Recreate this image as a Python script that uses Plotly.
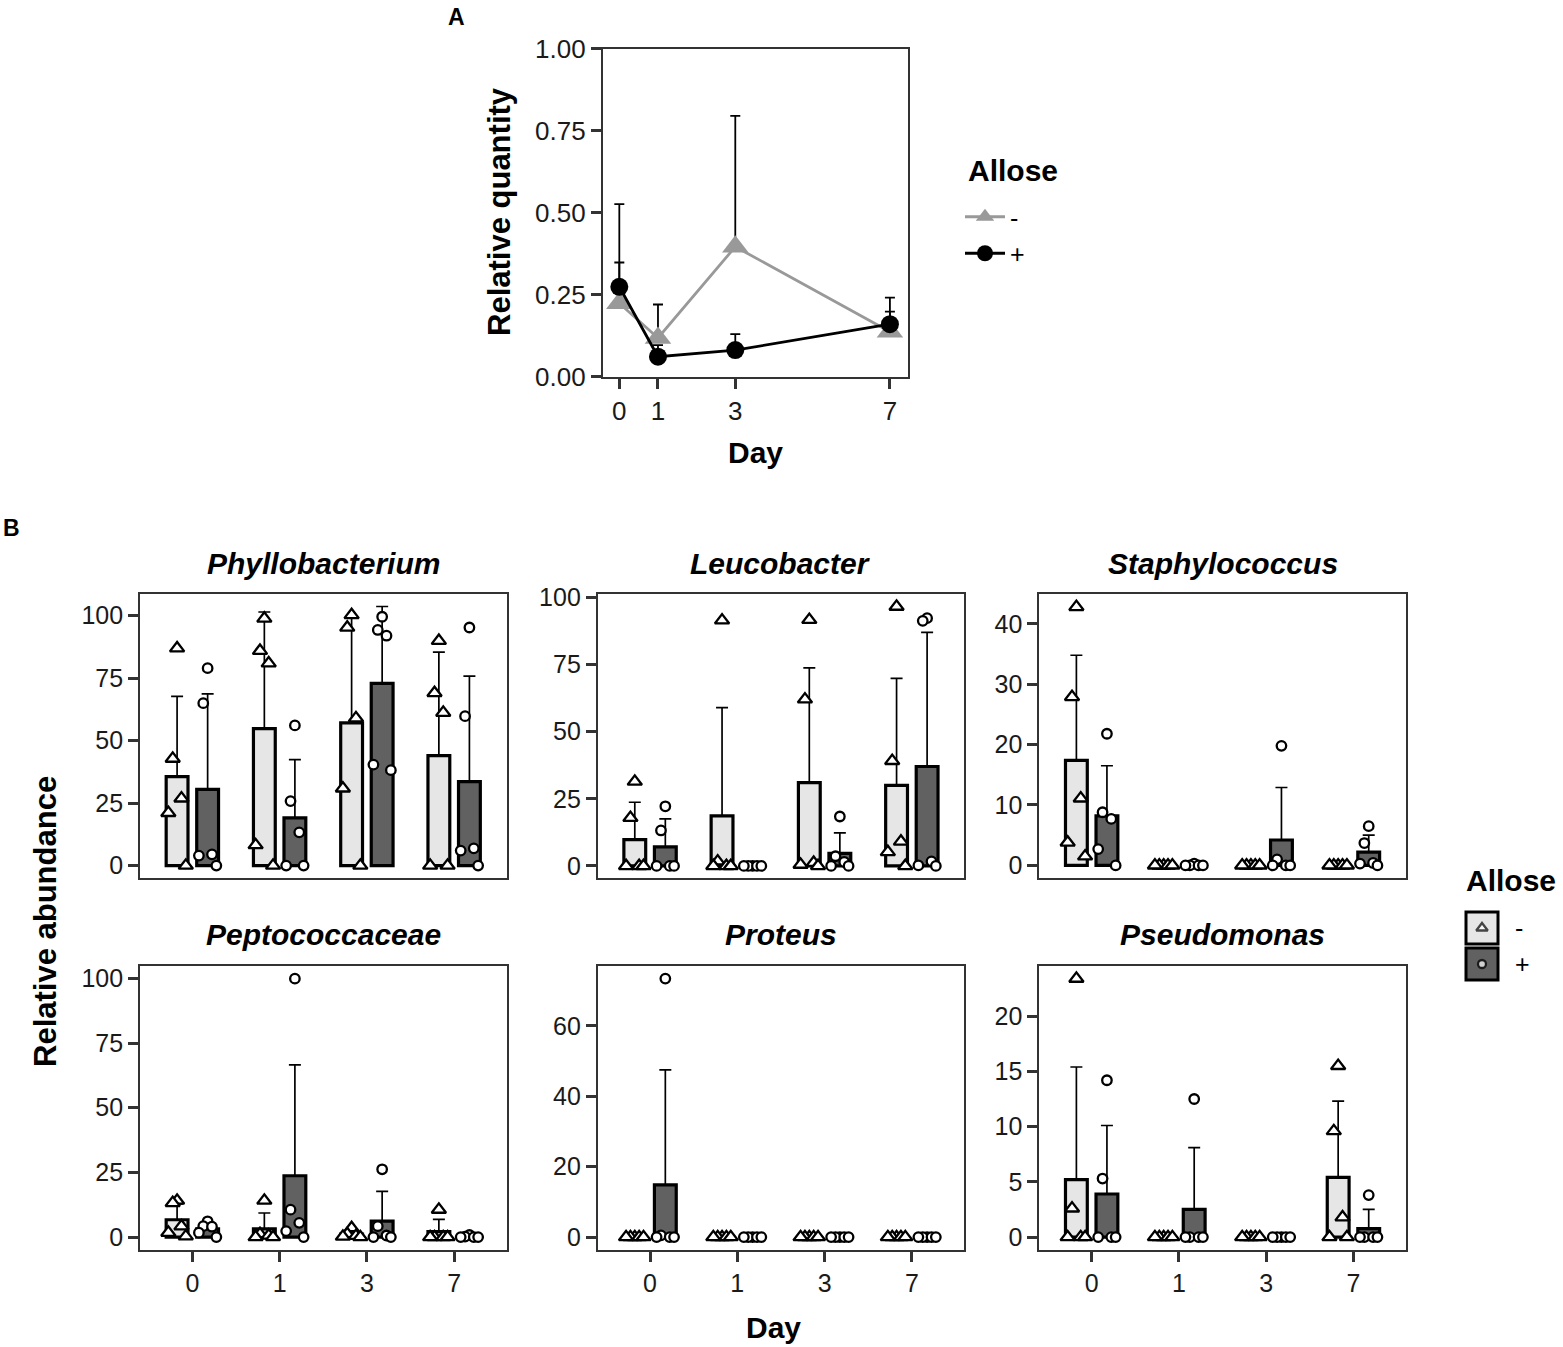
import plotly.graph_objects as go

# ---------------- DATA ----------------
# Panel A: relative quantity by day (mean and SD; error bars drawn upward)
DAYS = [0, 1, 3, 7]
QTY_MINUS_MEAN = [0.224, 0.118, 0.396, 0.137]
QTY_MINUS_SD = [0.302, 0.102, 0.399, 0.061]
QTY_PLUS_MEAN = [0.274, 0.061, 0.081, 0.160]
QTY_PLUS_SD = [0.074, 0.035, 0.049, 0.081]

# Panel B: relative abundance (%) per taxon, day, allose group
DAY_LABELS = ["0", "1", "3", "7"]
TAXA = ["Phyllobacterium", "Leucobacter", "Staphylococcus",
        "Peptococcaceae", "Proteus", "Pseudomonas"]
GROUPS = ["-", "+"]

PHYLLO_MINUS_MEAN = [35.6, 54.8, 57.1, 44.0]
PHYLLO_MINUS_SD = [32.1, 46.7, 42.6, 41.4]
PHYLLO_MINUS_PTS = [[87.0, 42.8, 26.9, 21.1, 0.0], [98.9, 86.0, 81.0, 8.2, 0.0],
                    [100.3, 95.3, 59.0, 30.9, 0.0], [90.0, 69.1, 61.2, 0.0, 0.0]]
PHYLLO_PLUS_MEAN = [30.5, 19.1, 72.9, 33.6]
PHYLLO_PLUS_SD = [38.2, 23.3, 30.8, 42.2]
PHYLLO_PLUS_PTS = [[79.0, 65.0, 4.5, 4.0, 0.0], [56.1, 25.8, 13.3, 0.0, 0.0],
                   [99.6, 94.3, 92.0, 40.4, 38.2], [95.3, 59.8, 6.9, 6.0, 0.0]]

LEUCO_MINUS_MEAN = [9.8, 18.6, 31.0, 30.0]
LEUCO_MINUS_SD = [13.9, 40.3, 42.7, 39.8]
LEUCO_MINUS_PTS = [[31.4, 17.9, 0.0, 0.0, 0.0], [91.4, 1.7, 0.0, 0.0, 0.0],
                   [91.6, 62.0, 1.2, 0.5, 0.0], [96.5, 39.1, 9.1, 5.2, 0.0]]
LEUCO_PLUS_MEAN = [7.1, 0.0, 4.7, 37.0]
LEUCO_PLUS_SD = [10.4, 0.0, 7.6, 49.9]
LEUCO_PLUS_PTS = [[22.2, 13.2, 0.0, 0.0, 0.0], [0.0, 0.0, 0.0, 0.0, 0.0],
                  [18.4, 3.6, 1.5, 0.0, 0.0], [92.2, 91.2, 1.7, 0.2, 0.0]]

STAPH_MINUS_MEAN = [17.4, 0.0, 0.0, 0.0]
STAPH_MINUS_SD = [17.4, 0.0, 0.0, 0.0]
STAPH_MINUS_PTS = [[42.8, 27.9, 11.1, 3.8, 1.5], [0.0, 0.0, 0.0, 0.0, 0.0],
                   [0.0, 0.0, 0.0, 0.0, 0.0], [0.0, 0.0, 0.0, 0.0, 0.0]]
STAPH_PLUS_MEAN = [8.2, 0.06, 4.2, 2.2]
STAPH_PLUS_SD = [8.3, 0.13, 8.7, 2.8]
STAPH_PLUS_PTS = [[21.8, 8.8, 7.7, 2.7, 0.0], [0.3, 0.0, 0.0, 0.0, 0.0],
                  [19.8, 1.0, 0.0, 0.0, 0.0], [6.5, 3.7, 0.4, 0.3, 0.0]]

PEPTO_MINUS_MEAN = [6.7, 3.2, 1.1, 2.1]
PEPTO_MINUS_SD = [6.1, 6.1, 1.5, 4.7]
PEPTO_MINUS_PTS = [[14.1, 13.2, 4.2, 1.7, 0.3], [14.1, 1.2, 0.6, 0.0, 0.0],
                   [3.5, 1.2, 0.5, 0.2, 0.0], [10.6, 0.0, 0.0, 0.0, 0.0]]
PEPTO_PLUS_MEAN = [3.2, 23.7, 6.2, 0.2]
PEPTO_PLUS_SD = [2.5, 42.9, 11.5, 0.3]
PEPTO_PLUS_PTS = [[6.1, 4.2, 4.0, 1.7, 0.0], [99.9, 10.6, 5.5, 2.3, 0.0],
                  [26.2, 4.2, 0.6, 0.0, 0.0], [0.8, 0.2, 0.0, 0.0, 0.0]]

PROTEUS_MINUS_MEAN = [0.0, 0.0, 0.0, 0.0]
PROTEUS_MINUS_SD = [0.0, 0.0, 0.0, 0.0]
PROTEUS_MINUS_PTS = [[0.0, 0.0, 0.0, 0.0, 0.0], [0.0, 0.0, 0.0, 0.0, 0.0],
                     [0.0, 0.0, 0.0, 0.0, 0.0], [0.0, 0.0, 0.0, 0.0, 0.0]]
PROTEUS_PLUS_MEAN = [14.8, 0.0, 0.0, 0.0]
PROTEUS_PLUS_SD = [32.7, 0.0, 0.0, 0.0]
PROTEUS_PLUS_PTS = [[73.4, 0.5, 0.0, 0.0, 0.0], [0.0, 0.0, 0.0, 0.0, 0.0],
                    [0.0, 0.0, 0.0, 0.0, 0.0], [0.0, 0.0, 0.0, 0.0, 0.0]]

PSEUDO_MINUS_MEAN = [5.2, 0.0, 0.0, 5.4]
PSEUDO_MINUS_SD = [10.2, 0.0, 0.0, 6.9]
PSEUDO_MINUS_PTS = [[23.4, 2.6, 0.0, 0.0, 0.0], [0.0, 0.0, 0.0, 0.0, 0.0],
                    [0.0, 0.0, 0.0, 0.0, 0.0], [15.5, 9.6, 1.8, 0.0, 0.0]]
PSEUDO_PLUS_MEAN = [3.9, 2.5, 0.0, 0.76]
PSEUDO_PLUS_SD = [6.2, 5.6, 0.0, 1.74]
PSEUDO_PLUS_PTS = [[14.2, 5.3, 0.0, 0.0, 0.0], [12.5, 0.0, 0.0, 0.0, 0.0],
                   [0.0, 0.0, 0.0, 0.0, 0.0], [3.8, 0.0, 0.0, 0.0, 0.0]]

TAXON_DATA = [
    ((PHYLLO_MINUS_MEAN, PHYLLO_MINUS_SD, PHYLLO_MINUS_PTS),
     (PHYLLO_PLUS_MEAN, PHYLLO_PLUS_SD, PHYLLO_PLUS_PTS)),
    ((LEUCO_MINUS_MEAN, LEUCO_MINUS_SD, LEUCO_MINUS_PTS),
     (LEUCO_PLUS_MEAN, LEUCO_PLUS_SD, LEUCO_PLUS_PTS)),
    ((STAPH_MINUS_MEAN, STAPH_MINUS_SD, STAPH_MINUS_PTS),
     (STAPH_PLUS_MEAN, STAPH_PLUS_SD, STAPH_PLUS_PTS)),
    ((PEPTO_MINUS_MEAN, PEPTO_MINUS_SD, PEPTO_MINUS_PTS),
     (PEPTO_PLUS_MEAN, PEPTO_PLUS_SD, PEPTO_PLUS_PTS)),
    ((PROTEUS_MINUS_MEAN, PROTEUS_MINUS_SD, PROTEUS_MINUS_PTS),
     (PROTEUS_PLUS_MEAN, PROTEUS_PLUS_SD, PROTEUS_PLUS_PTS)),
    ((PSEUDO_MINUS_MEAN, PSEUDO_MINUS_SD, PSEUDO_MINUS_PTS),
     (PSEUDO_PLUS_MEAN, PSEUDO_PLUS_SD, PSEUDO_PLUS_PTS)),
]

# ---------------- STYLE / LAYOUT ----------------
W, H = 1563, 1347
FONT = "Liberation Sans, Arial, Helvetica, sans-serif"
TXT = "#1a1a1a"
AX = "#333333"
GRAY_LINE = "#999999"
FILLS = ["#e6e6e6", "#616161"]
SYMBOLS = ["triangle-up", "circle"]
SYM_SIZE = [12.5, 9.5]
SYM_LINE = 2.3
DODGE = [-0.175, 0.175]
BAR_W = 0.25
JITTER = [0.0, -0.05, 0.05, -0.1, 0.1]

# facet y ranges and tick steps (axis settings)
Y_RANGES = [[-5.1, 108.7], [-4.6, 101.2], [-2.14, 44.94],
            [-5.0, 104.9], [-3.67, 77.07], [-1.17, 24.57]]
Y_DTICK = [25, 25, 10, 25, 20, 5]
COL_LEFT = [140.0, 597.7, 1039.3]
PANEL_W = 366.5
ROW_TOP = [594.0, 965.7]
PANEL_H = 284.3


def fx(p):
    return p / W


def fy(p):
    return 1 - p / H


fig = go.Figure()

axis_common = dict(showgrid=False, zeroline=False, showline=True, mirror=True,
                   linecolor=AX, linewidth=1.8, ticks="outside", ticklen=10,
                   tickwidth=2.5, tickcolor=AX, automargin=False,
                   tickfont=dict(family=FONT, size=25, color=TXT))

# ---------------- PANEL A ----------------
fig.add_trace(go.Scatter(
    x=DAYS, y=QTY_MINUS_MEAN, mode="lines+markers", name="-",
    line=dict(color=GRAY_LINE, width=2.8),
    marker=dict(symbol="triangle-up", size=23, color=GRAY_LINE),
    error_y=dict(type="data", symmetric=False, array=QTY_MINUS_SD,
                 arrayminus=[0] * len(DAYS), color="black", thickness=1.8, width=5),
    xaxis="x", yaxis="y", legend="legend", legendgroup="m"))
fig.add_trace(go.Scatter(
    x=DAYS, y=QTY_PLUS_MEAN, mode="lines+markers", name="+",
    line=dict(color="black", width=2.8),
    marker=dict(symbol="circle", size=18, color="black"),
    error_y=dict(type="data", symmetric=False, array=QTY_PLUS_SD,
                 arrayminus=[0] * len(DAYS), color="black", thickness=1.8, width=5),
    xaxis="x", yaxis="y", legend="legend", legendgroup="p"))

layout_axes = {}
layout_axes["xaxis"] = dict(axis_common, domain=[fx(602.7), fx(907.7)],
                            range=[-0.43, 7.46], tickvals=DAYS,
                            ticktext=[str(d) for d in DAYS], anchor="y",
                            tickfont=dict(family=FONT, size=26, color=TXT))
layout_axes["yaxis"] = dict(axis_common, domain=[fy(376.7), fy(48.5)],
                            range=[0, 1], dtick=0.25, tickformat=".2f", anchor="x",
                            tickfont=dict(family=FONT, size=26, color=TXT))

# ---------------- PANEL B ----------------
cat_pos = list(range(1, len(DAY_LABELS) + 1))
for i, taxon in enumerate(TAXA):
    k = i + 2
    xa, ya = f"x{k}", f"y{k}"
    for g, (means, sds, pts) in enumerate(TAXON_DATA[i]):
        bx = [c + DODGE[g] for c in cat_pos]
        fig.add_trace(go.Bar(
            x=bx, y=means, width=BAR_W, showlegend=False,
            marker=dict(color=FILLS[g], line=dict(color="black", width=3.2)),
            error_y=dict(type="data", symmetric=False, array=sds,
                         arrayminus=[0] * len(sds), color="black",
                         thickness=1.7, width=6),
            xaxis=xa, yaxis=ya))
        px_, py_ = [], []
        for j, c in enumerate(cat_pos):
            for m, v in enumerate(pts[j]):
                px_.append(c + DODGE[g] + JITTER[m])
                py_.append(v)
        fig.add_trace(go.Scatter(
            x=px_, y=py_, mode="markers", showlegend=False,
            marker=dict(symbol=SYMBOLS[g], size=SYM_SIZE[g], color="white",
                        line=dict(width=SYM_LINE, color="black")),
            xaxis=xa, yaxis=ya))
    r, c = divmod(i, 3)
    left = COL_LEFT[c]
    top = ROW_TOP[r]
    bottom_row = r == 1
    layout_axes[f"xaxis{k}"] = dict(
        axis_common, domain=[fx(left), fx(left + PANEL_W)], range=[0.4, 4.6],
        tickvals=cat_pos, ticktext=DAY_LABELS, anchor=ya,
        showticklabels=bottom_row, ticks="outside" if bottom_row else "")
    layout_axes[f"yaxis{k}"] = dict(
        axis_common, domain=[fy(top + PANEL_H), fy(top)], range=Y_RANGES[i],
        dtick=Y_DTICK[i], tick0=0, anchor=xa)

# ---------------- LEGEND B (manual keys) ----------------
fig.add_trace(go.Scatter(
    x=[0, 0], y=[1, 0], mode="markers", showlegend=False, hoverinfo="skip",
    marker=dict(symbol=SYMBOLS, size=[10, 8], color="white",
                line=dict(width=SYM_LINE, color="black")),
    xaxis="x8", yaxis="y8"))
layout_axes["xaxis8"] = dict(domain=[fx(1465), fx(1499)], range=[-1, 1],
                             visible=False, anchor="y8", automargin=False)
layout_axes["yaxis8"] = dict(domain=[fy(982), fy(910)], range=[-0.5, 1.5],
                             visible=False, anchor="x8", automargin=False)

shapes = []
for g in range(2):
    y0 = 912 + g * 36
    shapes.append(dict(type="rect", xref="paper", yref="paper",
                       x0=fx(1466), x1=fx(1498), y0=fy(y0 + 32), y1=fy(y0),
                       fillcolor=FILLS[g], line=dict(color="black", width=3),
                       layer="below"))

annotations = []


def ann(text, x, y, size, xanchor="center", yanchor="middle", angle=0, bold=False, italic=False):
    t = text
    if italic:
        t = f"<i>{t}</i>"
    if bold:
        t = f"<b>{t}</b>"
    annotations.append(dict(text=t, x=fx(x), y=fy(y), xref="paper", yref="paper",
                            showarrow=False, xanchor=xanchor, yanchor=yanchor,
                            textangle=angle,
                            font=dict(family=FONT, size=size, color="black")))


ann("A", 456, 17, 23, bold=True)
ann("B", 11, 528, 23, bold=True)
ann("Relative quantity", 500, 212, 31, angle=-90, bold=True)
ann("Day", 755, 452, 30, bold=True)
ann("Relative abundance", 45, 922, 31, angle=-90, bold=True)
ann("Day", 773, 1327, 30, bold=True)
for i, taxon in enumerate(TAXA):
    r, c = divmod(i, 3)
    ann(taxon, COL_LEFT[c] + PANEL_W / 2, ROW_TOP[r] - 31, 30, bold=True, italic=True)
ann("Allose", 966, 170, 30, xanchor="left", bold=True)
ann("Allose", 1464, 880, 30, xanchor="left", bold=True)
for g, lab in enumerate(GROUPS):
    ann(lab, 1513, 928 + g * 36, 25, xanchor="left")

fig.update_layout(
    width=W, height=H, margin=dict(l=0, r=0, t=0, b=0, autoexpand=False),
    paper_bgcolor="white", plot_bgcolor="white",
    font=dict(family=FONT, color=TXT),
    shapes=shapes, annotations=annotations,
    showlegend=True,
    legend=dict(x=fx(960), y=fy(194), xanchor="left", yanchor="top",
                font=dict(family=FONT, size=25, color="black"),
                bgcolor="rgba(0,0,0,0)", itemsizing="trace", itemwidth=40,
                tracegroupgap=1),
    **layout_axes,
)

fig.write_html("out.html", config={"displayModeBar": False},
               post_script="document.body.style.margin='0';document.body.style.overflow='hidden';")
